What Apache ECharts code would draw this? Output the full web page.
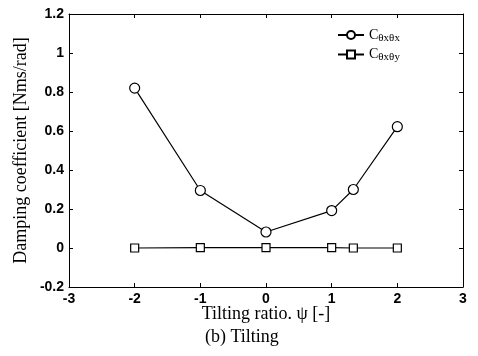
<!DOCTYPE html>
<html><head><meta charset="utf-8">
<script src="https://cdn.jsdelivr.net/npm/echarts@6/dist/echarts.min.js"></script>
<style>html,body{margin:0;padding:0;background:#fff}#c{width:478px;height:356px}</style>
</head><body><div id="c"></div>
<script>
const tiltX = [-2, -1, 0, 1, 1.33, 2];
const cxx = [0.82, 0.295, 0.082, 0.192, 0.30, 0.622];
const cxy = [0.0, 0.002, 0.002, 0.002, 0.0, 0.0];
const seriesNames = ['Cxx', 'Cxy'];
const legendSub = {Cxx: 'θxθx', Cxy: 'θxθy'};

const chart = echarts.init(document.getElementById('c'));
const tickFont = {fontFamily: 'Liberation Sans', fontWeight: 'bold', fontSize: 14, color: '#000'};
const serif = 'Liberation Serif';
function axisCommon(extra) {
  return Object.assign({
    axisLine: {show: true, onZero: false, lineStyle: {color: '#000', width: 1}},
    axisTick: {show: true, inside: true, length: 4, lineStyle: {color: '#000'}},
    splitLine: {show: false},
    nameMoveOverlap: false
  }, extra);
}
chart.setOption({
  animation: false,
  backgroundColor: '#fff',
  grid: {left: 69, right: 15, top: 14, bottom: 69},
  title: {text: '(b) Tilting', left: 205, top: 328, textStyle: {fontFamily: serif, fontSize: 18, fontWeight: 'normal', color: '#000', lineHeight: 18}, padding: 0},
  legend: {
    orient: 'vertical', left: 332, top: 23, itemGap: 4, itemWidth: 26, itemHeight: 10,
    data: seriesNames,
    formatter: n => '{c|C}{s|' + legendSub[n] + '}',
    textStyle: {rich: {
      c: {fontFamily: serif, fontSize: 14, color: '#000'},
      s: {fontFamily: serif, fontSize: 11, color: '#000', verticalAlign: 'bottom', padding: [6, 0, 0, 0]}
    }}
  },
  xAxis: [
    axisCommon({type: 'value', min: -3, max: 3, interval: 1, position: 'bottom',
      axisLabel: Object.assign({margin: 5}, tickFont),
      name: 'Tilting ratio. ψ [-]', nameLocation: 'middle', nameGap: 18,
      nameTextStyle: {fontFamily: serif, fontSize: 18, color: '#000', lineHeight: 18}}),
    axisCommon({type: 'value', min: -3, max: 3, interval: 1, position: 'top', axisLabel: {show: false}})
  ],
  yAxis: [
    axisCommon({type: 'value', min: -0.2, max: 1.2, interval: 0.2, position: 'left',
      axisLabel: Object.assign({margin: 5, formatter: v => String(Math.round(v * 10) / 10)}, tickFont),
      name: 'Damping coefficient [Nms/rad]', nameLocation: 'middle', nameGap: 39,
      nameTextStyle: {fontFamily: serif, fontSize: 18, color: '#000', lineHeight: 18}}),
    axisCommon({type: 'value', min: -0.2, max: 1.2, interval: 0.2, position: 'right', axisLabel: {show: false}})
  ],
  series: [
    {name: 'Cxx', type: 'line', data: tiltX.map((x, i) => [x, cxx[i]]),
      symbol: 'circle', symbolSize: 10,
      itemStyle: {color: '#fff', borderColor: '#000', borderWidth: 1.2},
      lineStyle: {color: '#000', width: 1.2}},
    {name: 'Cxy', type: 'line', data: tiltX.map((x, i) => [x, cxy[i]]),
      symbol: 'rect', symbolSize: 8,
      itemStyle: {color: '#fff', borderColor: '#000', borderWidth: 1.2},
      lineStyle: {color: '#000', width: 1.2}}
  ]
});
</script></body></html>
